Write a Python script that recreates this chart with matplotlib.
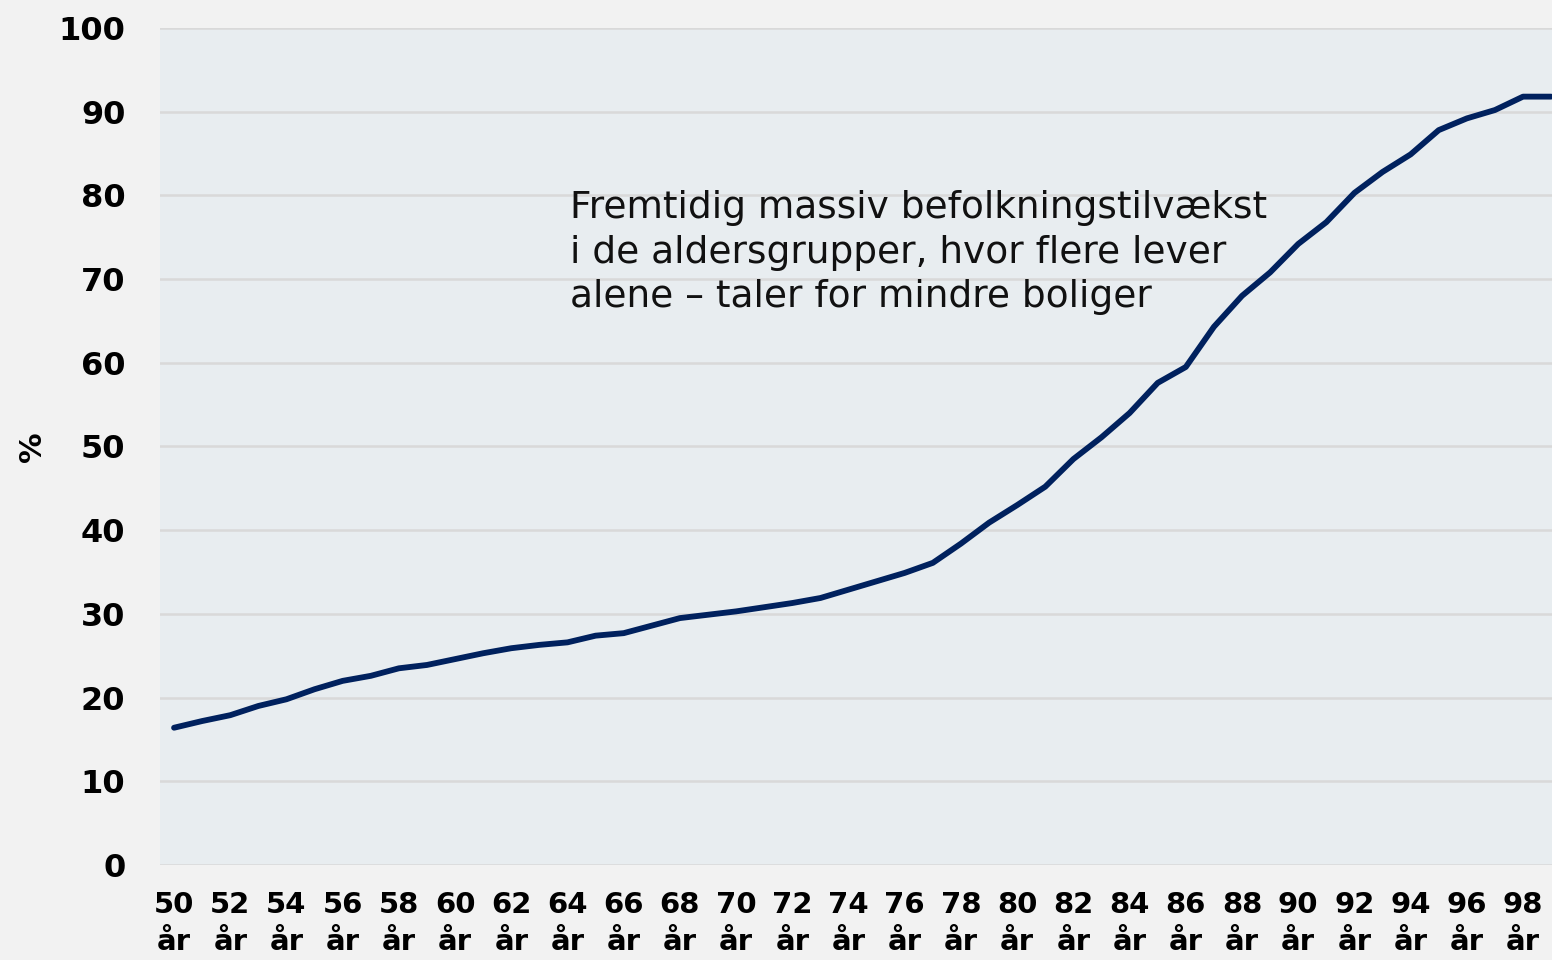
import numpy as np
import matplotlib
matplotlib.use("Agg")
import matplotlib.pyplot as plt

# andel der bor alene, efter alder
ages = list(range(50, 100))
pct = [16.4, 17.2, 17.9, 19.0, 19.8, 21.0, 22.0, 22.6, 23.5, 23.9,
       24.6, 25.3, 25.9, 26.3, 26.6, 27.4, 27.7, 28.6, 29.5, 29.9,
       30.3, 30.8, 31.3, 31.9, 32.9, 33.9, 34.9, 36.1, 38.4, 40.9,
       43.0, 45.2, 48.5, 51.1, 54.0, 57.6, 59.5, 64.3, 68.0, 70.8,
       74.2, 76.8, 80.3, 82.8, 84.9, 87.8, 89.2, 90.2, 91.8, 91.8]
tick_ages = list(range(50, 100, 2))
tick_labels = ["%d\når" % a for a in tick_ages]
note = "Fremtidig massiv befolkningstilvækst\ni de aldersgrupper, hvor flere lever\nalene – taler for mindre boliger"

plt.rcParams['font.family'] = ['DejaVu Sans']

fig = plt.figure(figsize=(15.52, 9.6), dpi=100, facecolor='#f2f2f2')
ax = fig.add_axes([160/1552, 1-865/960, (1552-160)/1552, (865-28)/960])
ax.set_facecolor('#e8edf0')

ax.plot(ages, pct, color='#00215e', lw=4.2, solid_capstyle='round', zorder=3)

ax.set_xlim(49.5, 99.03)
ax.set_ylim(0, 100)
ax.set_yticks(range(0, 101, 10))
ax.set_xticks(tick_ages)
ax.set_xticklabels(tick_labels, fontsize=21, fontweight='bold', linespacing=1.4)
ax.tick_params(axis='y', labelsize=23, length=0, pad=25)
for t in ax.get_yticklabels():
    t.set_fontweight('bold')
ax.tick_params(axis='x', length=0, pad=19)
ax.grid(axis='y', color='#d9d9d9', lw=1.8)
ax.set_axisbelow(True)
for s in ax.spines.values():
    s.set_visible(False)

ax.set_ylabel('%', fontsize=22, fontweight='bold', labelpad=8)

ax.text(64.1, 80.6, note, fontsize=27, va='top', ha='left', linespacing=1.3, color='#111111')

fig.savefig('out.png', dpi=100, facecolor=fig.get_facecolor())
